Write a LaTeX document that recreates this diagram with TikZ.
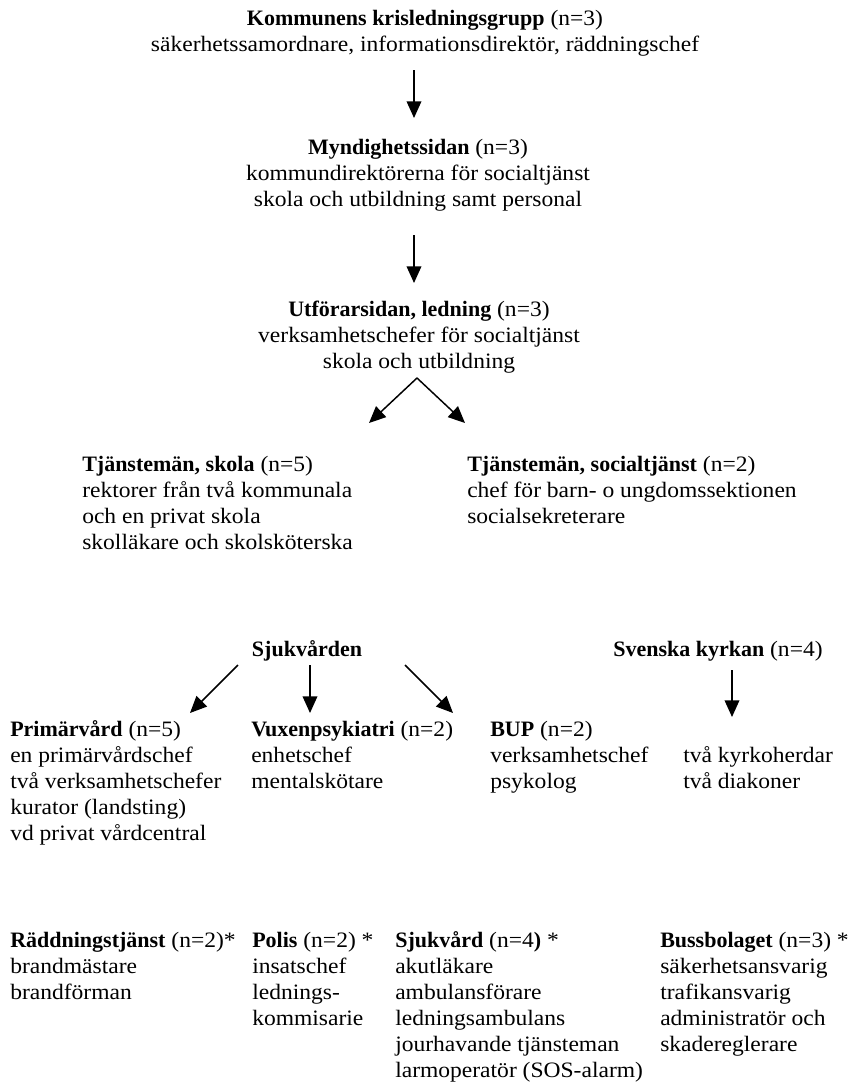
\documentclass[tikz,border=0pt]{standalone}
\usepackage{fontspec}
\setmainfont{Liberation Serif}[FakeStretch=1.07,BoldFeatures={FakeStretch=1.0}]
\usetikzlibrary{arrows.meta}
\tikzset{
  txt/.style={inner sep=0pt, align=left, anchor=north west, font=\fontsize{16.5}{19.5}\selectfont},
  ctxt/.style={inner sep=0pt, align=center, anchor=north, font=\fontsize{16.5}{19.5}\selectfont},
  arr/.style={line width=1.1pt, -{Triangle[length=12.5pt,width=11pt]}}
}
\begin{document}
\begin{tikzpicture}[x=0.75pt,y=-0.75pt]
\useasboundingbox (0,0) rectangle (848,1086);
% level nodes
\node[ctxt] (k1) at (425,7) {\strut\textbf{Kommunens krisledningsgrupp} (n=3)\\säkerhetssamordnare, informationsdirektör, räddningschef};
\node[ctxt] (m1) at (418,136) {\strut\textbf{Myndighetssidan} (n=3)\\kommundirektörerna för socialtjänst\\skola och utbildning samt personal};
\node[ctxt] (u1) at (419,298) {\strut\textbf{Utförarsidan, ledning} (n=3)\\verksamhetschefer för socialtjänst\\skola och utbildning};
\node[txt] (ts) at (82,453) {\strut\textbf{Tjänstemän, skola} (n=5)\\rektorer från två kommunala\\och en privat skola\\skolläkare och skolsköterska};
\node[txt] (tsoc) at (467,453) {\strut\textbf{Tjänstemän, socialtjänst} (n=2)\\chef för barn- o ungdomssektionen\\socialsekreterare};
\node[ctxt] (sjuk) at (307,638) {\strut\textbf{Sjukvården}};
\node[txt] (kyrka) at (613,638) {\strut\textbf{Svenska kyrkan} (n=4)};
\node[txt] (prim) at (10,718) {\strut\textbf{Primärvård} (n=5)\\en primärvårdschef\\två verksamhetschefer\\kurator (landsting)\\vd privat vårdcentral};
\node[txt] (vux) at (251,718) {\strut\textbf{Vuxenpsykiatri} (n=2)\\enhetschef\\mentalskötare};
\node[txt] (bup) at (490,718) {\strut\textbf{BUP} (n=2)\\verksamhetschef\\psykolog};
\node[txt] (kyrkl) at (683,744) {\strut två kyrkoherdar\\två diakoner};
\node[txt] (radd) at (10,929) {\strut\textbf{Räddningstjänst} (n=2)*\\brandmästare\\brandförman};
\node[txt] (polis) at (252,929) {\strut\textbf{Polis} (n=2) *\\insatschef\\lednings-\\kommisarie};
\node[txt] (sjv) at (395,929) {\strut\textbf{Sjukvård} (n=4\textbf{)} *\\akutläkare\\ambulansförare\\ledningsambulans\\jourhavande tjänsteman\\larmoperatör (SOS-alarm)};
\node[txt] (buss) at (660,929) {\strut\textbf{Bussbolaget} (n=3) *\\säkerhetsansvarig\\trafikansvarig\\administratör och\\skadereglerare};
% arrow end points
\coordinate (a1s) at (414,70);  \coordinate (a1e) at (414,118);
\coordinate (a2s) at (414,235); \coordinate (a2e) at (414,283);
\coordinate (vs) at (417,378);
\coordinate (vl) at (369,423);  \coordinate (vr) at (465,423);
\coordinate (s1s) at (238,665); \coordinate (s1e) at (190,713);
\coordinate (s2s) at (310,665); \coordinate (s2e) at (310,713);
\coordinate (s3s) at (405,665); \coordinate (s3e) at (453,713);
\coordinate (kas) at (732,670); \coordinate (kae) at (732,717);
\draw[arr] (a1s) -- (a1e);
\draw[arr] (a2s) -- (a2e);
\draw[arr] (vs) -- (vl);
\draw[arr] (vs) -- (vr);
\draw[arr] (s1s) -- (s1e);
\draw[arr] (s2s) -- (s2e);
\draw[arr] (s3s) -- (s3e);
\draw[arr] (kas) -- (kae);
\end{tikzpicture}
\end{document}
